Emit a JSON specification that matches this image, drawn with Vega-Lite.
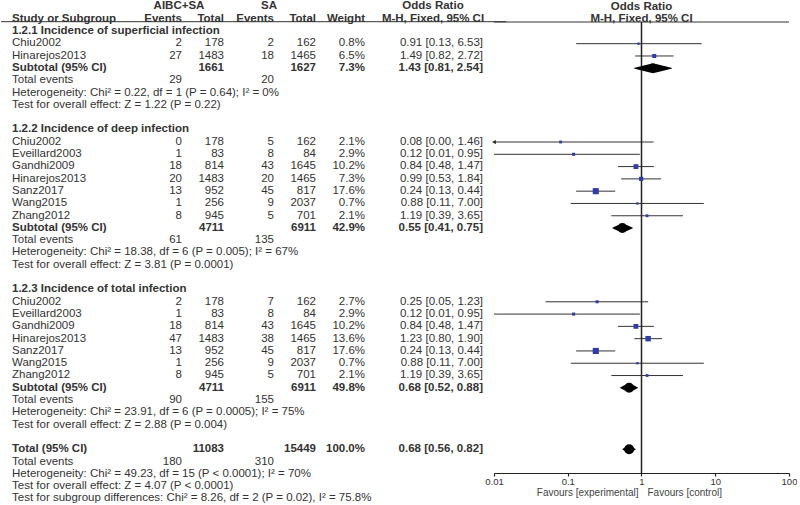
{
  "$schema": "https://vega.github.io/schema/vega-lite/v6.json",
  "padding": 0,
  "spacing": 0,
  "bounds": "flush",
  "background": "white",
  "config": {"view": {"stroke": null}, "font": "Liberation Sans", "text": {"fontSize": 11.5}},
  "datasets": {
    "tbl": [
      {"row": 0, "kind": "group", "n1": "AIBC+SA", "n2": "SA", "ci": "Odds Ratio"},
      {"row": 1, "kind": "head", "study": "Study or Subgroup", "e1": "Events", "n1": "Total", "e2": "Events", "n2": "Total", "ci": "M-H, Fixed, 95% CI"},
      {"row": 2, "kind": "section", "study": "1.2.1 Incidence of superficial infection"},
      {"row": 3, "kind": "study", "study": "Chiu2002", "e1": 2, "n1": 178, "e2": 2, "n2": 162, "w": 0.008, "ci": "0.91 [0.13, 6.53]", "est": 0.91, "lo": 0.13, "hi": 6.53},
      {"row": 4, "kind": "study", "study": "Hinarejos2013", "e1": 27, "n1": 1483, "e2": 18, "n2": 1465, "w": 0.065, "ci": "1.49 [0.82, 2.72]", "est": 1.49, "lo": 0.82, "hi": 2.72},
      {"row": 5, "kind": "subtotal", "study": "Subtotal (95% CI)", "n1": 1661, "n2": 1627, "w": 0.073, "ci": "1.43 [0.81, 2.54]", "est": 1.43, "lo": 0.81, "hi": 2.54},
      {"row": 6, "kind": "events", "study": "Total events", "e1": 29, "e2": 20},
      {"row": 7, "kind": "note", "study": "Heterogeneity: Chi² = 0.22, df = 1 (P = 0.64); I² = 0%"},
      {"row": 8, "kind": "note", "study": "Test for overall effect: Z = 1.22 (P = 0.22)"},
      {"row": 10, "kind": "section", "study": "1.2.2 Incidence of deep infection"},
      {"row": 11, "kind": "study", "study": "Chiu2002", "e1": 0, "n1": 178, "e2": 5, "n2": 162, "w": 0.021, "ci": "0.08 [0.00, 1.46]", "est": 0.08, "lo": 0.004, "hi": 1.46},
      {"row": 12, "kind": "study", "study": "Eveillard2003", "e1": 1, "n1": 83, "e2": 8, "n2": 84, "w": 0.029, "ci": "0.12 [0.01, 0.95]", "est": 0.12, "lo": 0.01, "hi": 0.95},
      {"row": 13, "kind": "study", "study": "Gandhi2009", "e1": 18, "n1": 814, "e2": 43, "n2": 1645, "w": 0.102, "ci": "0.84 [0.48, 1.47]", "est": 0.84, "lo": 0.48, "hi": 1.47},
      {"row": 14, "kind": "study", "study": "Hinarejos2013", "e1": 20, "n1": 1483, "e2": 20, "n2": 1465, "w": 0.073, "ci": "0.99 [0.53, 1.84]", "est": 0.99, "lo": 0.53, "hi": 1.84},
      {"row": 15, "kind": "study", "study": "Sanz2017", "e1": 13, "n1": 952, "e2": 45, "n2": 817, "w": 0.176, "ci": "0.24 [0.13, 0.44]", "est": 0.24, "lo": 0.13, "hi": 0.44},
      {"row": 16, "kind": "study", "study": "Wang2015", "e1": 1, "n1": 256, "e2": 9, "n2": 2037, "w": 0.007, "ci": "0.88 [0.11, 7.00]", "est": 0.88, "lo": 0.11, "hi": 7.0},
      {"row": 17, "kind": "study", "study": "Zhang2012", "e1": 8, "n1": 945, "e2": 5, "n2": 701, "w": 0.021, "ci": "1.19 [0.39, 3.65]", "est": 1.19, "lo": 0.39, "hi": 3.65},
      {"row": 18, "kind": "subtotal", "study": "Subtotal (95% CI)", "n1": 4711, "n2": 6911, "w": 0.429, "ci": "0.55 [0.41, 0.75]", "est": 0.55, "lo": 0.41, "hi": 0.75},
      {"row": 19, "kind": "events", "study": "Total events", "e1": 61, "e2": 135},
      {"row": 20, "kind": "note", "study": "Heterogeneity: Chi² = 18.38, df = 6 (P = 0.005); I² = 67%"},
      {"row": 21, "kind": "note", "study": "Test for overall effect: Z = 3.81 (P = 0.0001)"},
      {"row": 23, "kind": "section", "study": "1.2.3 Incidence of total infection"},
      {"row": 24, "kind": "study", "study": "Chiu2002", "e1": 2, "n1": 178, "e2": 7, "n2": 162, "w": 0.027, "ci": "0.25 [0.05, 1.23]", "est": 0.25, "lo": 0.05, "hi": 1.23},
      {"row": 25, "kind": "study", "study": "Eveillard2003", "e1": 1, "n1": 83, "e2": 8, "n2": 84, "w": 0.029, "ci": "0.12 [0.01, 0.95]", "est": 0.12, "lo": 0.01, "hi": 0.95},
      {"row": 26, "kind": "study", "study": "Gandhi2009", "e1": 18, "n1": 814, "e2": 43, "n2": 1645, "w": 0.102, "ci": "0.84 [0.48, 1.47]", "est": 0.84, "lo": 0.48, "hi": 1.47},
      {"row": 27, "kind": "study", "study": "Hinarejos2013", "e1": 47, "n1": 1483, "e2": 38, "n2": 1465, "w": 0.136, "ci": "1.23 [0.80, 1.90]", "est": 1.23, "lo": 0.8, "hi": 1.9},
      {"row": 28, "kind": "study", "study": "Sanz2017", "e1": 13, "n1": 952, "e2": 45, "n2": 817, "w": 0.176, "ci": "0.24 [0.13, 0.44]", "est": 0.24, "lo": 0.13, "hi": 0.44},
      {"row": 29, "kind": "study", "study": "Wang2015", "e1": 1, "n1": 256, "e2": 9, "n2": 2037, "w": 0.007, "ci": "0.88 [0.11, 7.00]", "est": 0.88, "lo": 0.11, "hi": 7.0},
      {"row": 30, "kind": "study", "study": "Zhang2012", "e1": 8, "n1": 945, "e2": 5, "n2": 701, "w": 0.021, "ci": "1.19 [0.39, 3.65]", "est": 1.19, "lo": 0.39, "hi": 3.65},
      {"row": 31, "kind": "subtotal", "study": "Subtotal (95% CI)", "n1": 4711, "n2": 6911, "w": 0.498, "ci": "0.68 [0.52, 0.88]", "est": 0.68, "lo": 0.52, "hi": 0.88},
      {"row": 32, "kind": "events", "study": "Total events", "e1": 90, "e2": 155},
      {"row": 33, "kind": "note", "study": "Heterogeneity: Chi² = 23.91, df = 6 (P = 0.0005); I² = 75%"},
      {"row": 34, "kind": "note", "study": "Test for overall effect: Z = 2.88 (P = 0.004)"},
      {"row": 36, "kind": "total", "study": "Total (95% CI)", "n1": 11083, "n2": 15449, "w": 1.0, "ci": "0.68 [0.56, 0.82]", "est": 0.68, "lo": 0.56, "hi": 0.82},
      {"row": 37, "kind": "events", "study": "Total events", "e1": 180, "e2": 310},
      {"row": 38, "kind": "note", "study": "Heterogeneity: Chi² = 49.23, df = 15 (P < 0.0001); I² = 70%"},
      {"row": 39, "kind": "note", "study": "Test for overall effect: Z = 4.07 (P < 0.0001)"},
      {"row": 40, "kind": "note", "study": "Test for subgroup differences: Chi² = 8.26, df = 2 (P = 0.02), I² = 75.8%"}
    ]
  },
  "data": {"name": "tbl"},
  "hconcat": [
    {"width": 11, "height": 505, "data": {"values": [{}]}, "mark": {"type": "rule", "color": "#333"},
     "encoding": {"y": {"datum": 1.236, "type": "quantitative", "scale": {"domain": [-0.528, 40.53], "reverse": true, "nice": false, "zero": false}, "axis": null}}},
    {"width": 129, "height": 505, "layer": [
      {"data": {"values": [{}]}, "mark": {"type": "rule", "color": "#333"},
       "encoding": {"y": {"datum": 1.236, "type": "quantitative", "scale": {"domain": [-0.528, 40.53], "reverse": true, "nice": false, "zero": false}, "axis": null}}},
      {"transform": [{"filter": "datum.kind=='study'||datum.kind=='events'||datum.kind=='note'"}],
       "mark": {"type": "text", "align": "left", "color": "#333"},
       "encoding": {"x": {"value": 0}, "y": {"field": "row", "type": "quantitative", "axis": null}, "text": {"field": "study", "type": "nominal"}}},
      {"transform": [{"filter": "datum.kind=='head'||datum.kind=='section'||datum.kind=='subtotal'||datum.kind=='total'"}],
       "mark": {"type": "text", "align": "left", "fontWeight": "bold", "color": "#333"},
       "encoding": {"x": {"value": 0}, "y": {"field": "row", "type": "quantitative", "axis": null}, "text": {"field": "study", "type": "nominal"}}}
    ]},
    {"width": 41, "height": 505, "layer": [
      {"data": {"values": [{}]}, "mark": {"type": "rule", "color": "#333"},
       "encoding": {"y": {"datum": 1.236, "type": "quantitative", "scale": {"domain": [-0.528, 40.53], "reverse": true, "nice": false, "zero": false}, "axis": null}}},
      {"transform": [{"filter": "datum.kind=='study'||datum.kind=='events'"}],
       "mark": {"type": "text", "align": "right", "color": "#333"},
       "encoding": {"x": {"value": "width"}, "y": {"field": "row", "type": "quantitative", "axis": null}, "text": {"field": "e1", "type": "nominal"}}},
      {"transform": [{"filter": "datum.kind=='head'"}],
       "mark": {"type": "text", "align": "right", "fontWeight": "bold", "color": "#333"},
       "encoding": {"x": {"value": "width"}, "y": {"field": "row", "type": "quantitative", "axis": null}, "text": {"field": "e1", "type": "nominal"}}}
    ]},
    {"width": 42, "height": 505, "layer": [
      {"data": {"values": [{}]}, "mark": {"type": "rule", "color": "#333"},
       "encoding": {"y": {"datum": 1.236, "type": "quantitative", "scale": {"domain": [-0.528, 40.53], "reverse": true, "nice": false, "zero": false}, "axis": null}}},
      {"transform": [{"filter": "datum.kind=='study'"}],
       "mark": {"type": "text", "align": "right", "color": "#333"},
       "encoding": {"x": {"value": "width"}, "y": {"field": "row", "type": "quantitative", "axis": null}, "text": {"field": "n1", "type": "nominal"}}},
      {"transform": [{"filter": "datum.kind=='head'||datum.kind=='subtotal'||datum.kind=='total'"}],
       "mark": {"type": "text", "align": "right", "fontWeight": "bold", "color": "#333"},
       "encoding": {"x": {"value": "width"}, "y": {"field": "row", "type": "quantitative", "axis": null}, "text": {"field": "n1", "type": "nominal"}}},
      {"transform": [{"filter": "datum.kind=='group'"}],
       "mark": {"type": "text", "align": "center", "fontWeight": "bold", "color": "#333", "dx": -3},
       "encoding": {"x": {"value": 0}, "y": {"field": "row", "type": "quantitative", "axis": null}, "text": {"field": "n1", "type": "nominal"}}}
    ]},
    {"width": 50, "height": 505, "layer": [
      {"data": {"values": [{}]}, "mark": {"type": "rule", "color": "#333"},
       "encoding": {"y": {"datum": 1.236, "type": "quantitative", "scale": {"domain": [-0.528, 40.53], "reverse": true, "nice": false, "zero": false}, "axis": null}}},
      {"transform": [{"filter": "datum.kind=='study'||datum.kind=='events'"}],
       "mark": {"type": "text", "align": "right", "color": "#333"},
       "encoding": {"x": {"value": "width"}, "y": {"field": "row", "type": "quantitative", "axis": null}, "text": {"field": "e2", "type": "nominal"}}},
      {"transform": [{"filter": "datum.kind=='head'"}],
       "mark": {"type": "text", "align": "right", "fontWeight": "bold", "color": "#333"},
       "encoding": {"x": {"value": "width"}, "y": {"field": "row", "type": "quantitative", "axis": null}, "text": {"field": "e2", "type": "nominal"}}}
    ]},
    {"width": 42, "height": 505, "layer": [
      {"data": {"values": [{}]}, "mark": {"type": "rule", "color": "#333"},
       "encoding": {"y": {"datum": 1.236, "type": "quantitative", "scale": {"domain": [-0.528, 40.53], "reverse": true, "nice": false, "zero": false}, "axis": null}}},
      {"transform": [{"filter": "datum.kind=='study'"}],
       "mark": {"type": "text", "align": "right", "color": "#333"},
       "encoding": {"x": {"value": "width"}, "y": {"field": "row", "type": "quantitative", "axis": null}, "text": {"field": "n2", "type": "nominal"}}},
      {"transform": [{"filter": "datum.kind=='head'||datum.kind=='subtotal'||datum.kind=='total'"}],
       "mark": {"type": "text", "align": "right", "fontWeight": "bold", "color": "#333"},
       "encoding": {"x": {"value": "width"}, "y": {"field": "row", "type": "quantitative", "axis": null}, "text": {"field": "n2", "type": "nominal"}}},
      {"transform": [{"filter": "datum.kind=='group'"}],
       "mark": {"type": "text", "align": "center", "fontWeight": "bold", "color": "#333", "dx": -5},
       "encoding": {"x": {"value": 0}, "y": {"field": "row", "type": "quantitative", "axis": null}, "text": {"field": "n2", "type": "nominal"}}}
    ]},
    {"width": 49, "height": 505, "layer": [
      {"data": {"values": [{}]}, "mark": {"type": "rule", "color": "#333"},
       "encoding": {"y": {"datum": 1.236, "type": "quantitative", "scale": {"domain": [-0.528, 40.53], "reverse": true, "nice": false, "zero": false}, "axis": null}}},
      {"transform": [{"filter": "datum.kind=='study'"}],
       "mark": {"type": "text", "align": "right", "color": "#333"},
       "encoding": {"x": {"value": "width"}, "y": {"field": "row", "type": "quantitative", "axis": null}, "text": {"field": "w", "type": "quantitative", "format": ".1%"}}},
      {"transform": [{"filter": "datum.kind=='subtotal'||datum.kind=='total'"}],
       "mark": {"type": "text", "align": "right", "fontWeight": "bold", "color": "#333"},
       "encoding": {"x": {"value": "width"}, "y": {"field": "row", "type": "quantitative", "axis": null}, "text": {"field": "w", "type": "quantitative", "format": ".1%"}}},
      {"transform": [{"filter": "datum.kind=='head'"}],
       "mark": {"type": "text", "align": "right", "fontWeight": "bold", "color": "#333", "text": "Weight"},
       "encoding": {"x": {"value": "width"}, "y": {"field": "row", "type": "quantitative", "axis": null}}}
    ]},
    {"width": 118, "height": 505, "layer": [
      {"data": {"values": [{}]}, "mark": {"type": "rule", "color": "#333"},
       "encoding": {"y": {"datum": 1.236, "type": "quantitative", "scale": {"domain": [-0.528, 40.53], "reverse": true, "nice": false, "zero": false}, "axis": null}}},
      {"transform": [{"filter": "datum.kind=='study'"}],
       "mark": {"type": "text", "align": "right", "color": "#333"},
       "encoding": {"x": {"value": "width"}, "y": {"field": "row", "type": "quantitative", "axis": null}, "text": {"field": "ci", "type": "nominal"}}},
      {"transform": [{"filter": "datum.kind=='subtotal'||datum.kind=='total'"}],
       "mark": {"type": "text", "align": "right", "fontWeight": "bold", "color": "#333"},
       "encoding": {"x": {"value": "width"}, "y": {"field": "row", "type": "quantitative", "axis": null}, "text": {"field": "ci", "type": "nominal"}}},
      {"transform": [{"filter": "datum.kind=='group'||datum.kind=='head'"}],
       "mark": {"type": "text", "align": "center", "fontWeight": "bold", "color": "#333", "dx": 9},
       "encoding": {"x": {"value": 59}, "y": {"field": "row", "type": "quantitative", "axis": null}, "text": {"field": "ci", "type": "nominal"}}}
    ]},
    {"width": 11, "height": 505, "data": {"values": [{}]}, "mark": {"type": "rule", "color": "#333"},
     "encoding": {"y": {"datum": 1.236, "type": "quantitative", "scale": {"domain": [-0.528, 40.53], "reverse": true, "nice": false, "zero": false}, "axis": null}}},
    {"spacing": 0, "bounds": "flush", "vconcat": [
      {"width": 295, "height": 22, "layer": [
        {"data": {"values": [{}]}, "mark": {"type": "rule", "color": "#333"},
         "encoding": {"y": {"datum": 1.236, "type": "quantitative", "scale": {"domain": [-0.528, 1.236], "reverse": true, "nice": false, "zero": false}, "axis": null}}},
        {"transform": [{"filter": "datum.kind=='group'||datum.kind=='head'"}],
         "mark": {"type": "text", "align": "center", "fontWeight": "bold", "color": "#333"},
         "encoding": {"x": {"datum": 1, "type": "quantitative", "scale": {"type": "log", "domain": [0.01, 100], "nice": false}, "axis": null},
                      "y": {"field": "row", "type": "quantitative", "axis": null}, "text": {"field": "ci", "type": "nominal"}}}
      ]},
      {"width": 295, "height": 451, "layer": [
        {"transform": [{"filter": "datum.kind=='study'"}],
         "mark": {"type": "rule", "color": "#333", "strokeWidth": 1, "clip": true},
         "encoding": {"x": {"field": "lo", "type": "quantitative", "scale": {"type": "log", "domain": [0.01, 100], "nice": false},
                 "axis": {"values": [0.01, 0.1, 1, 10, 100], "format": "~g", "title": null, "grid": false, "domainColor": "#222", "domainWidth": 1.2, "tickColor": "#222", "tickWidth": 1.2, "tickSize": 3, "labelColor": "#333", "labelFontSize": 9.5, "labelPadding": 0, "labelFlush": false}},
                      "x2": {"field": "hi"}, "y": {"field": "row", "type": "quantitative", "scale": {"domain": [1.236, 37.93], "reverse": true, "nice": false, "zero": false}, "axis": null}}},
        {"data": {"values": [{}]}, "mark": {"type": "rule", "color": "#222", "strokeWidth": 1.5},
         "encoding": {"x": {"datum": 1, "type": "quantitative"}}},
        {"transform": [{"filter": "datum.kind=='study' && datum.lo < 0.01"}],
         "mark": {"type": "point", "shape": "triangle-left", "filled": true, "color": "#222", "size": 18, "opacity": 1},
         "encoding": {"x": {"datum": 0.01, "type": "quantitative"}, "y": {"field": "row", "type": "quantitative", "axis": null}}},
        {"transform": [{"filter": "datum.kind=='study'"}],
         "mark": {"type": "point", "shape": "square", "filled": true, "color": "#2e3ba8", "opacity": 1},
         "encoding": {"x": {"field": "est", "type": "quantitative"}, "y": {"field": "row", "type": "quantitative", "axis": null},
                      "size": {"field": "w", "type": "quantitative", "scale": {"domain": [0, 0.18], "range": [4, 38]}, "legend": null}}},
        {"transform": [{"filter": "datum.kind=='subtotal'||datum.kind=='total'"}, {"fold": ["lo", "est", "hi"], "as": ["key", "xv"]}],
         "mark": {"type": "trail", "color": "#000"},
         "encoding": {"x": {"field": "xv", "type": "quantitative"}, "y": {"field": "row", "type": "quantitative", "axis": null},
                      "detail": {"field": "row", "type": "nominal"},
                      "size": {"condition": {"test": "datum.key=='est'", "value": 10}, "value": 0}}},
        {"data": {"values": [{"t": "Favours [experimental]"}]},
         "mark": {"type": "text", "align": "right", "dx": -3, "dy": 20, "fontSize": 10, "color": "#444"},
         "encoding": {"x": {"datum": 1, "type": "quantitative"}, "y": {"value": "height"}, "text": {"field": "t", "type": "nominal"}}},
        {"data": {"values": [{"t": "Favours [control]"}]},
         "mark": {"type": "text", "align": "left", "dx": 6, "dy": 20, "fontSize": 10, "color": "#444"},
         "encoding": {"x": {"datum": 1, "type": "quantitative"}, "y": {"value": "height"}, "text": {"field": "t", "type": "nominal"}}}
      ]}
    ]},
    {"width": 12, "height": 505, "data": {"values": [{}]}, "mark": {"type": "rule", "color": "#333"},
     "encoding": {"y": {"datum": 1.236, "type": "quantitative", "scale": {"domain": [-0.528, 40.53], "reverse": true, "nice": false, "zero": false}, "axis": null}}}
  ]
}
